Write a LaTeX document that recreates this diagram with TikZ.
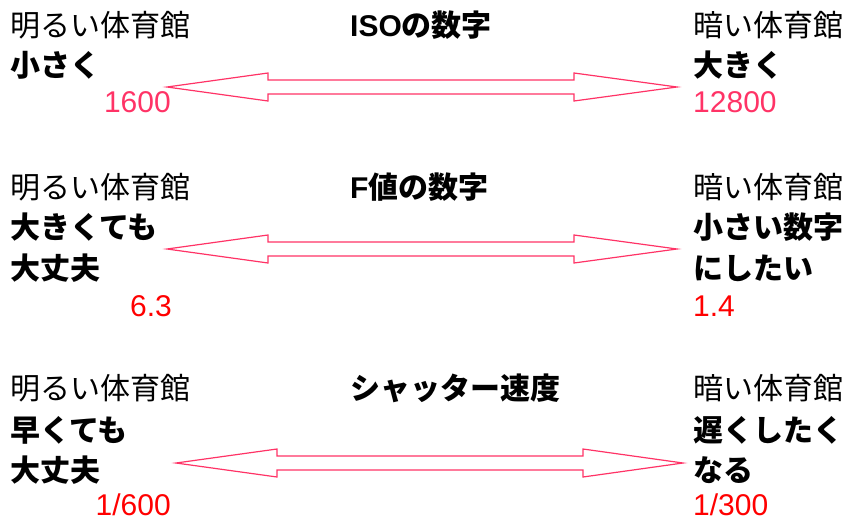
\documentclass[tikz,border=0pt]{standalone}
\usepackage{fontspec}
\setmainfont{Liberation Sans}
\newfontfamily\jp{Noto Sans CJK JP}
\definecolor{isopink}{RGB}{255,51,102}
\definecolor{numred}{RGB}{255,0,0}

\begin{document}
\begin{tikzpicture}[x=1pt,y=-1pt,
    txt/.style={anchor=base west, inner sep=0pt, font=\jp\fontsize{30}{36}\selectfont},
    bold/.style={anchor=base west, inner sep=0pt, font=\jp\bfseries\fontsize{30}{36}\selectfont},
    lnum/.style={anchor=base east, inner sep=0pt, font=\rmfamily\fontsize{30}{36}\selectfont},
    rnum/.style={anchor=base west, inner sep=0pt, font=\rmfamily\fontsize{30}{36}\selectfont},
    blockarrow/.style={draw=isopink, line width=1.2pt, line join=miter}]
    \useasboundingbox (0,0) rectangle (850,522);

    % ISO
    \node[txt] (isoL1) at (10,36) {明るい体育館};
    \node[bold] (isoL2) at (10,76) {小さく};
    \node[lnum, text=isopink] (isoLn) at (171,112) {1600};
    \node[bold] (isoT) at (350,36) {{\rmfamily ISO}の数字};
    \node[txt] (isoR1) at (693,36) {暗い体育館};
    \node[bold] (isoR2) at (693,76) {大きく};
    \node[rnum, text=isopink] (isoRn) at (693,112) {12800};

    % F
    \node[txt] (fL1) at (10,198) {明るい体育館};
    \node[bold] (fL2) at (10,238) {大きくても};
    \node[bold] (fL3) at (10,279) {大丈夫};
    \node[lnum, text=numred] (fLn) at (172,316) {6.3};
    \node[bold] (fT) at (350,198) {{\rmfamily F}値の数字};
    \node[txt] (fR1) at (693,198) {暗い体育館};
    \node[bold] (fR2) at (693,238) {小さい数字};
    \node[bold] (fR3) at (693,279) {にしたい};
    \node[rnum, text=numred] (fRn) at (693,316) {1.4};

    % shutter
    \node[txt] (sL1) at (10,399) {明るい体育館};
    \node[bold] (sL2) at (10,441) {早くても};
    \node[bold] (sL3) at (10,481) {大丈夫};
    \node[lnum, text=numred] (sLn) at (171,515) {1/600};
    \node[bold] (sT) at (350,399) {シャッター速度};
    \node[txt] (sR1) at (693,399) {暗い体育館};
    \node[bold] (sR2) at (693,441) {遅くしたく};
    \node[bold] (sR3) at (693,481) {なる};
    \node[rnum, text=numred] (sRn) at (693,515) {1/300};

    % double block arrows
    \foreach \y/\a/\b/\c/\d in {87/167/268/574/677, 249/167/268/574/677, 463/176/277/583/683}{
        \draw[blockarrow] (\a,\y) -- (\b,\y-14) -- (\b,\y-7) -- (\c,\y-7) -- (\c,\y-14)
            -- (\d,\y) -- (\c,\y+14) -- (\c,\y+7) -- (\b,\y+7) -- (\b,\y+14) -- cycle;
    }
\end{tikzpicture}
\end{document}
